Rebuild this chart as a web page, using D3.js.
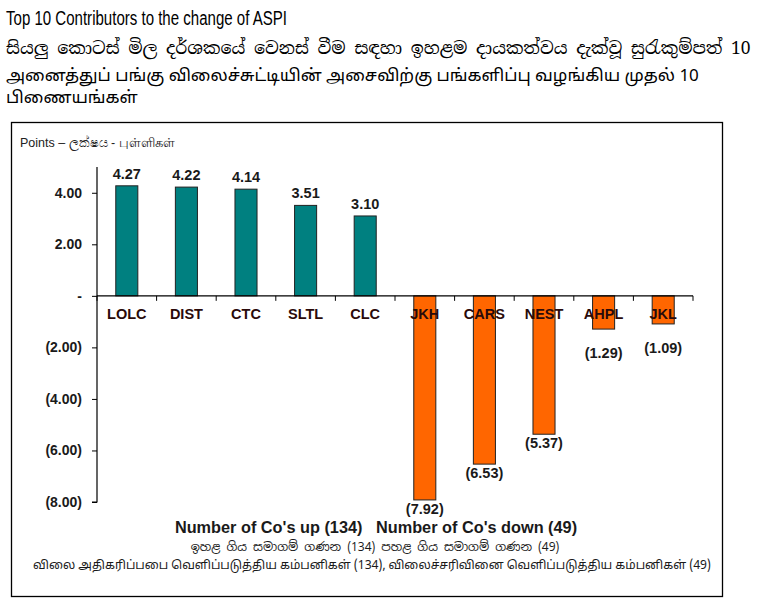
<!DOCTYPE html>
<html><head><meta charset="utf-8">
<script src="https://cdn.jsdelivr.net/npm/d3@7"></script>
<style>body{margin:0;background:#fff}</style>
</head><body>
<script>
const categories = ["LOLC","DIST","CTC","SLTL","CLC","JKH","CARS","NEST","AHPL","JKL"];
const values = [4.27,4.22,4.14,3.51,3.10,-7.92,-6.53,-5.37,-1.29,-1.09];
const yTicks = [4,2,0,-2,-4,-6,-8];
const titleLines = ["Top 10 Contributors to the change of ASPI",
  "සියලු කොටස් මිල දර්ශකයේ වෙනස් වීම සඳහා ඉහළම දායකත්වය දැක්වූ සුරැකුම්පත් 10",
  "அனைத்துப் பங்கு விலைச்சுட்டியின் அசைவிற்கு பங்களிப்பு வழங்கிய முதல் 10",
  "பிணையங்கள்"];
const footLines = ["Number of Co's up (134)   Number of Co's down (49)",
  "ඉහළ ගිය සමාගම් ගණන (134) පහළ ගිය සමාගම් ගණන (49)",
  "விலை அதிகரிப்பபை வெளிப்படுத்திய கம்பனிகள் (134), விலைச்சரிவினை வெளிப்படுத்திய கம்பனிகள் (49)"];
const yLabel = "Points – ලක්ෂය - புள்ளிகள்";

const W=759,H=609;
const svg=d3.select("body").append("svg").attr("width",W).attr("height",H);
const SANS="Liberation Sans, Arial, sans-serif";

// titles
svg.append("text").attr("x",6).attr("y",25).attr("font-family",SANS).attr("font-size",20)
  .attr("textLength",281).attr("lengthAdjust","spacingAndGlyphs").text(titleLines[0]);
svg.append("text").attr("x",6).attr("y",54).attr("font-family","Noto Serif Sinhala, Noto Sans Sinhala, serif").attr("font-size",17.4).text(titleLines[1]);
svg.append("text").attr("x",6).attr("y",81).attr("font-family","Noto Sans Tamil, sans-serif").attr("font-size",17).text(titleLines[2]);
svg.append("text").attr("x",6).attr("y",103).attr("font-family","Noto Sans Tamil, sans-serif").attr("font-size",17).text(titleLines[3]);

// frame
svg.append("rect").attr("x",11.5).attr("y",122.5).attr("width",711).attr("height",474).attr("fill","none").attr("stroke","#000").attr("stroke-width",1.3);

const x=d3.scaleBand().domain(categories).range([97,693]).paddingInner(0.63).paddingOuter(0.315);
const xb=d3.scaleBand().domain(categories).range([97,693]);
const y=d3.scaleLinear().domain([-8,5]).range([502,167]);

svg.append("text").attr("x",20).attr("y",147).attr("font-family",SANS).attr("font-size",12.5).attr("fill","#222").text(yLabel);

// bars
svg.selectAll("rect.bar").data(values).join("rect").attr("class","bar")
  .attr("x",(d,i)=>x(categories[i])).attr("width",x.bandwidth())
  .attr("y",d=>y(Math.max(0,d))).attr("height",d=>Math.abs(y(d)-y(0)))
  .attr("fill",d=>d>=0?"#008080":"#FF6600").attr("stroke","#222").attr("stroke-width",1);

// y axis
const yAxis=d3.axisLeft(y).tickValues(yTicks).tickSize(5).tickFormat(d=>d===0?"-":(d<0?"("+Math.abs(d).toFixed(2)+")":d.toFixed(2)));
const ga=svg.append("g").attr("transform","translate(97,0)").call(yAxis);
ga.select(".domain").attr("d","M-5,"+y(-8)+"H0V"+y(5)).attr("stroke","#000").attr("stroke-width",1.2);
ga.selectAll(".tick line").attr("stroke","#000");
ga.selectAll(".tick text").attr("font-family",SANS).attr("font-size",14).attr("font-weight","bold").attr("fill","#1a1a1a").attr("x",-15);

// x axis line and ticks at boundaries
const gx=svg.append("g");
gx.append("line").attr("x1",97).attr("x2",693).attr("y1",y(0)).attr("y2",y(0)).attr("stroke","#000").attr("stroke-width",1.2);
const bounds=categories.map(c=>xb(c)).concat([693]);
gx.selectAll("line.t").data(bounds).join("line").attr("class","t").attr("x1",d=>d).attr("x2",d=>d).attr("y1",y(0)).attr("y2",y(0)+5).attr("stroke","#000");
gx.selectAll("text").data(categories).join("text").attr("x",d=>xb(d)+xb.bandwidth()/2).attr("y",y(0)+23)
  .attr("text-anchor","middle").attr("font-family",SANS).attr("font-size",14.5).attr("font-weight","bold").attr("fill","#2a0a0a").text(d=>d);

// value labels
svg.selectAll("text.val").data(values).join("text").attr("class","val")
  .attr("x",(d,i)=>xb(categories[i])+xb.bandwidth()/2)
  .attr("y",d=>d>=0?y(d)-7:(y(d)-y(0)<40?y(d)+29:y(d)+14))
  .attr("text-anchor","middle").attr("font-family",SANS).attr("font-size",14.5).attr("font-weight","bold").attr("fill","#1a1a1a")
  .text(d=>d>=0?d.toFixed(2):"("+Math.abs(d).toFixed(2)+")");

// footer
svg.append("text").attr("x",376).attr("y",533).attr("text-anchor","middle").attr("font-family",SANS).attr("font-size",16.3).attr("font-weight","bold").attr("fill","#1a1a1a").style("white-space","pre").text(footLines[0]);
svg.append("text").attr("x",375).attr("y",551).attr("text-anchor","middle").attr("font-family","Noto Sans Sinhala, sans-serif").attr("font-size",12).attr("fill","#1a1a1a").text(footLines[1]);
svg.append("text").attr("x",372).attr("y",569).attr("text-anchor","middle").attr("font-family","Noto Sans Tamil, sans-serif").attr("font-size",12.1).attr("fill","#1a1a1a").text(footLines[2]);
</script>
</body></html>
